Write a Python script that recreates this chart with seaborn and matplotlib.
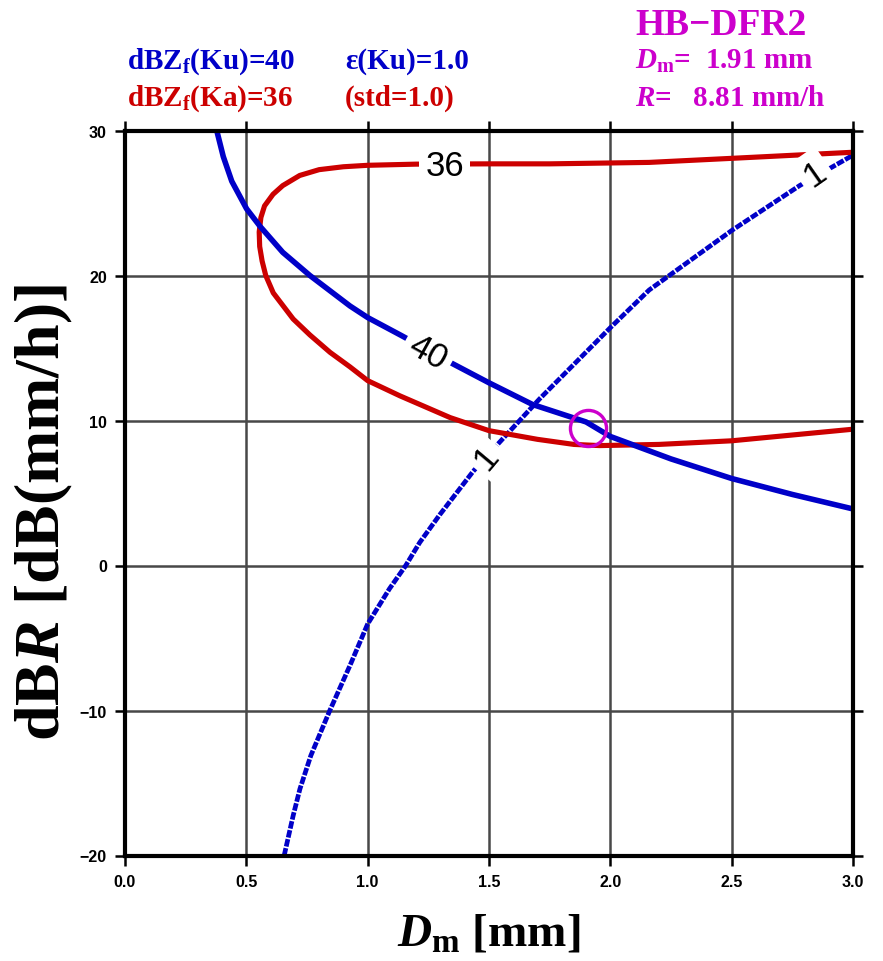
import numpy as np
import matplotlib
matplotlib.use("Agg")
import matplotlib.pyplot as plt
import seaborn as sns

# dBZf(Ku) = 40 contour: Dm [mm] vs dBR
ku40_dm = [0.378, 0.405, 0.44, 0.501, 0.556, 0.65, 0.762, 0.927, 1.0, 1.14,
           1.249, 1.352, 1.5, 1.68, 1.90, 2.0, 2.25, 2.5, 2.75, 3.0]
ku40_dbr = [30.0, 28.2, 26.5, 24.6, 23.4, 21.6, 20.0, 17.9, 17.1, 15.85,
            14.85, 13.9, 12.6, 11.1, 9.9, 8.9, 7.35, 6.0, 4.9, 3.9]

# dBZf(Ka) = 36 contour, listed along the curve (lower branch, then upper)
ka36_dm = [3.0, 2.5, 2.2, 1.956, 1.85, 1.7, 1.5, 1.34, 1.133, 1.0, 0.927,
           0.845, 0.762, 0.693, 0.652, 0.611, 0.58, 0.565, 0.555, 0.553,
           0.56, 0.575, 0.61, 0.65, 0.72, 0.80, 0.90, 1.0, 1.2, 1.5, 1.75,
           2.16, 2.5, 3.0]
ka36_dbr = [9.4, 8.6, 8.35, 8.27, 8.35, 8.7, 9.3, 10.2, 11.7, 12.75, 13.7,
            14.7, 15.9, 17.0, 17.9, 18.8, 20.0, 21.0, 22.0, 23.0,
            24.0, 24.8, 25.6, 26.2, 26.9, 27.3, 27.5, 27.6, 27.68, 27.7, 27.7,
            27.8, 28.08, 28.5]

# epsilon(Ku) = 1 contour
eps1_dm = [0.656, 0.693, 0.721, 0.766, 0.844, 0.927, 1.0, 1.09, 1.157, 1.215,
           1.297, 1.435, 1.538, 1.709, 2.0, 2.16, 2.5, 2.78, 3.0]
eps1_dbr = [-20.0, -17.25, -15.4, -13.1, -10.0, -6.9, -4.03, -1.6, 0.0, 1.6,
            3.5, 6.5, 8.4, 11.5, 16.4, 19.0, 23.1, 26.2, 28.3]

# retrieved solution
sol_dm = 1.91
sol_r = 8.81

# contour labels: (text, Dm, dBR, rotation)
contour_labels = [("36", 1.318, 27.57, 0), ("40", 1.249, 14.7, -29),
                  ("1", 1.49, 7.46, 50), ("1", 2.842, 27.0, 35)]

xticks = [0.0, 0.5, 1.0, 1.5, 2.0, 2.5, 3.0]
xticklabels = ["0.0", "0.5", "1.0", "1.5", "2.0", "2.5", "3.0"]
yticks = [-20, -10, 0, 10, 20, 30]
yticklabels = ["\u221220", "\u221210", "0", "10", "20", "30"]

BLUE = "#0000c8"
RED = "#cc0000"
MAGENTA = "#cc00cc"

sns.set_style("white")
plt.rcParams.update({
    "font.family": ["Liberation Serif", "DejaVu Serif"],
    "font.weight": "bold",
    "text.color": "black",
    "axes.labelcolor": "black",
    "xtick.color": "black",
    "ytick.color": "black",
    "mathtext.fontset": "custom",
    "mathtext.rm": "Liberation Serif:bold",
    "mathtext.bf": "Liberation Serif:bold",
    "mathtext.it": "Liberation Serif:italic:bold",
})

W, H = 883, 962
fig = plt.figure(figsize=(W / 100, H / 100), dpi=100)
ax = fig.add_axes([125 / W, 1 - 856.5 / H, 728 / W, 725 / H])

ax.set_xlim(0, 3)
ax.set_ylim(-20, 30)
ax.set_axisbelow(True)
ax.grid(True, color="#484848", lw=1.8)

sns.lineplot(x=eps1_dm, y=eps1_dbr, sort=False, estimator=None, color=BLUE,
             lw=3.4, linestyle=(0, (1.6, 0.35)), ax=ax)
sns.lineplot(x=ka36_dm, y=ka36_dbr, sort=False, estimator=None, color=RED,
             lw=3.7, ax=ax)
sns.lineplot(x=ku40_dm, y=ku40_dbr, sort=False, estimator=None, color=BLUE,
             lw=4.0, ax=ax)

sns.scatterplot(x=[sol_dm], y=[10 * np.log10(sol_r)], marker="o", s=26 ** 2,
                facecolor="none", edgecolor=MAGENTA, linewidth=2.4,
                zorder=5, ax=ax)

for txt, xv, yv, rot in contour_labels:
    ax.text(xv, yv, txt, rotation=rot, ha="center", va="center",
            rotation_mode="anchor", fontsize=25, fontweight="normal",
            family="Liberation Sans", color="black", zorder=6,
            bbox=dict(boxstyle="square,pad=0.18", fc="white", ec="none"))

ax.set_xticks(xticks)
ax.set_xticklabels(xticklabels, family="Liberation Sans", fontweight="bold",
                   fontsize=11.5)
ax.set_yticks(yticks)
ax.set_yticklabels(yticklabels, family="Liberation Sans", fontweight="bold",
                   fontsize=11.5)
ax.tick_params(which="both", direction="out", length=7, width=1.8,
               top=True, right=True, bottom=True, left=True, pad=6,
               color="black")
for sp in ax.spines.values():
    sp.set_visible(True)
    sp.set_color("black")
    sp.set_linewidth(3.0)

ax.set_xlabel(r"$D_\mathrm{m}$ [mm]", fontsize=34, fontweight="bold",
              va="center")
ax.xaxis.set_label_coords(0.5, -0.108)
ax.set_ylabel(r"dB$R$ [dB(mm/h)]", fontsize=46, fontweight="bold",
              va="center")
ax.yaxis.set_label_coords(-0.112, 0.475)


def top_text(xp, yp, s, color, size=21):
    fig.text(xp / W, 1 - yp / H, s, color=color, fontsize=size,
             fontweight="bold", ha="left", va="baseline")


top_text(127, 69, r"dBZ$_\mathrm{f}$(Ku)=40", BLUE)
top_text(345, 69, "\u03b5(Ku)=1.0", BLUE)
top_text(127, 106, r"dBZ$_\mathrm{f}$(Ka)=36", RED)
top_text(345, 106, "(std=1.0)", RED)
top_text(635, 35, "HB\u2212DFR2", MAGENTA, size=27)
top_text(635, 69, r"$D_\mathrm{m}$=  " + f"{sol_dm:.2f} mm", MAGENTA)
top_text(635, 106, r"$R$=   " + f"{sol_r:.2f} mm/h", MAGENTA)

fig.savefig("out.png", dpi=100)
